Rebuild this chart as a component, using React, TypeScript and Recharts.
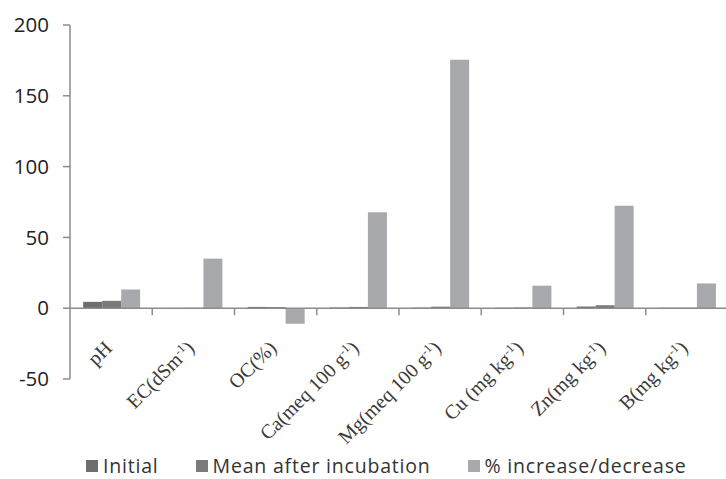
import { BarChart, Bar, XAxis, YAxis, ReferenceLine, Legend } from 'recharts';

const categories = [
  'pH',
  'EC(dSm⁻¹)',
  'OC(%)',
  'Ca(meq 100 g⁻¹)',
  'Mg(meq 100 g⁻¹)',
  'Cu (mg kg⁻¹)',
  'Zn(mg kg⁻¹)',
  'B(mg kg⁻¹)',
];
const initial = [4.5, 0.2, 0.9, 0.5, 0.4, 0.4, 1.2, 0.3];
const meanAfter = [5.2, 0.25, 0.8, 0.9, 1.1, 0.5, 2.1, 0.35];
const pctChange = [13.2, 35, -11, 67.7, 175.4, 15.9, 72.4, 17.5];
const yTicks = [-50, 0, 50, 100, 150, 200];

const series = [
  { key: 'initial', name: 'Initial', color: '#6e6e6e' },
  { key: 'mean', name: 'Mean after incubation', color: '#7a7a7a' },
  { key: 'pct', name: '% increase/decrease', color: '#a8a9ad' },
];

const data = categories.map((name, i) => ({
  name,
  initial: initial[i],
  mean: meanAfter[i],
  pct: pctChange[i],
}));

const WIDTH = 730;
const HEIGHT = 479;
const MARGIN = { top: 25, right: 2, left: 0, bottom: 0 };
const Y_AXIS_W = 70;
const X_AXIS_H = 100;
const Y_MIN = -50;
const Y_MAX = 200;
const PLOT_H = HEIGHT - MARGIN.top - MARGIN.bottom - X_AXIS_H;
const PLOT_W = WIDTH - MARGIN.left - MARGIN.right - Y_AXIS_W;
const ZERO_Y = MARGIN.top + (PLOT_H * Y_MAX) / (Y_MAX - Y_MIN);
const BAND = PLOT_W / categories.length;
const AXIS_GREY = '#8c8c8c';

// split "⁻¹" off so it can be drawn as a small raised tspan
const renderLabel = (label: string) => {
  const parts = label.split('⁻¹');
  const out: JSX.Element[] = [];
  parts.forEach((p, i) => {
    if (i > 0) {
      out.push(
        <tspan key={`s${i}`} fontSize={12} dy={-7}>
          -1
        </tspan>
      );
      out.push(
        <tspan key={`p${i}`} dy={7}>
          {p}
        </tspan>
      );
    } else {
      out.push(<tspan key={`p${i}`}>{p}</tspan>);
    }
  });
  return out;
};

const CategoryTick = (props: any) => {
  const { x, payload, index } = props;
  const left = x - BAND / 2;
  const ax = x + 2;
  const ay = ZERO_Y + 41;
  return (
    <g>
      {index > 0 && <line x1={left} y1={ZERO_Y} x2={left} y2={ZERO_Y + 7} stroke={AXIS_GREY} strokeWidth={1.5} />}
      <text
        x={ax}
        y={ay}
        textAnchor="end"
        transform={`rotate(-45 ${ax} ${ay})`}
        fontFamily="'Liberation Serif', 'DejaVu Serif', serif"
        fontSize={20}
        fill="#3a3a3a"
      >
        {renderLabel(payload.value)}
      </text>
    </g>
  );
};

const LegendRow = () => (
  <div
    style={{
      display: 'flex',
      gap: 37,
      fontFamily: "'Open Sans', sans-serif",
      fontSize: 19.5,
      letterSpacing: 0.8,
      color: '#333',
      lineHeight: 'normal',
      whiteSpace: 'nowrap',
    }}
  >
    {series.map(s => (
      <div key={s.key} style={{ display: 'flex', alignItems: 'center' }}>
        <span style={{ width: 12, height: 12, background: s.color, marginRight: 5, display: 'inline-block' }} />
        <span>{s.name}</span>
      </div>
    ))}
  </div>
);

const App = () => (
  <div style={{ position: 'absolute', left: 0, top: 0, width: 726, height: 479, overflow: 'hidden', background: '#fff' }}>
    <BarChart width={WIDTH} height={HEIGHT} data={data} margin={MARGIN} barCategoryGap="16%" barGap={0}>
      <XAxis
        dataKey="name"
        height={X_AXIS_H}
        axisLine={false}
        tickLine={false}
        interval={0}
        tick={<CategoryTick />}
      />
      <YAxis
        width={Y_AXIS_W}
        domain={[Y_MIN, Y_MAX]}
        ticks={yTicks}
        interval={0}
        axisLine={{ stroke: AXIS_GREY, strokeWidth: 1.5 }}
        tickLine={{ stroke: AXIS_GREY, strokeWidth: 1.5 }}
        tickSize={7}
        tickMargin={14}
        tick={{ fill: '#222', fontSize: 20.5, fontFamily: "'Open Sans', sans-serif" }}
      />
      <ReferenceLine y={0} stroke={AXIS_GREY} strokeWidth={1.5} />
      <Legend
        layout="vertical"
        align="center"
        verticalAlign="middle"
        wrapperStyle={{ position: 'absolute', left: 86, top: 452, width: 636 }}
        content={<LegendRow />}
      />
      {series.map(s => (
        <Bar key={s.key} dataKey={s.key} name={s.name} fill={s.color} isAnimationActive={false} />
      ))}
    </BarChart>
  </div>
);

export default App;
